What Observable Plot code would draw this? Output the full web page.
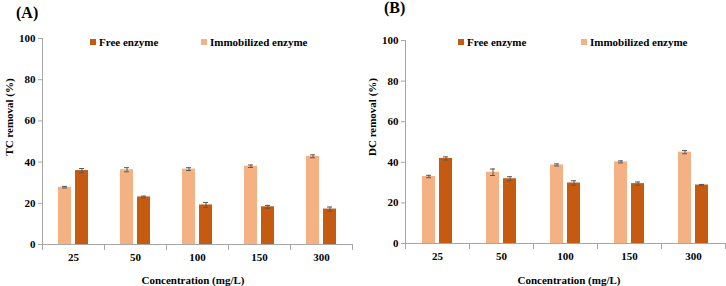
<!DOCTYPE html>
<html>
<head>
<meta charset="utf-8">
<script src="https://cdn.jsdelivr.net/npm/d3@7"></script>
<script src="https://cdn.jsdelivr.net/npm/@observablehq/plot@0.6"></script>
<style>
  body { margin: 0; background: #fff; font-family: "Liberation Serif", "Times New Roman", serif; font-weight: bold; color: #000; }
  #wrap { position: relative; width: 726px; height: 286px; overflow: hidden; }
  .panel { position: absolute; top: 0; width: 363px; height: 286px; }
  .panel svg { position: absolute; left: 0; top: 0; }
  .tag { position: absolute; font-size: 16px; line-height: 16px; }
  .legend { position: absolute; font-size: 11px; line-height: 14px; white-space: nowrap; display: flex; align-items: center; }
  .sw { display: inline-block; width: 6px; height: 6px; margin-right: 3px; }
  .lab { position: absolute; font-size: 11px; line-height: 12px; white-space: nowrap; }
</style>
</head>
<body>
<div id="wrap"></div>
<script>
// Concentrations tested and the two enzyme forms
const concentrations = ["25", "50", "100", "150", "300"];
const series = ["Immobilized enzyme", "Free enzyme"];
const yTicks = [0, 20, 40, 60, 80, 100];

// (A) TC removal (%), mean and error
const tcImmobilized = [27.8, 36.3, 36.6, 38.0, 42.8];
const tcImmobilizedErr = [0.4, 1.0, 0.7, 0.6, 0.7];
const tcFree = [35.9, 23.1, 19.2, 18.3, 17.2];
const tcFreeErr = [1.0, 0.4, 1.2, 0.7, 1.0];

// (B) DC removal (%), mean and error
const dcImmobilized = [33.0, 35.1, 38.7, 40.2, 45.0];
const dcImmobilizedErr = [0.6, 1.6, 0.5, 0.5, 0.8];
const dcFree = [41.9, 31.9, 29.8, 29.5, 28.8];
const dcFreeErr = [0.8, 1.0, 1.1, 0.8, 0.3];

const colors = ["#F4B183", "#C55A11"];
const axisGray = "#a6a6a6";
const errGray = "#595959";

function drawPanel({immob, immobErr, free, freeErr, margin}) {
  const width = 363, height = 286;
  const rows = concentrations.flatMap((c, i) => [
    {conc: c, series: series[0], value: immob[i], err: immobErr[i]},
    {conc: c, series: series[1], value: free[i], err: freeErr[i]}
  ]);
  const facetW = (width - margin.left - margin.right) / concentrations.length;
  const step = 18, gap = 4;            // bar width 14 + gap 4
  const innerH = height - margin.top - margin.bottom;
  const errCommon = {fx: "conc", x: "series", stroke: errGray, strokeWidth: 1};
  return Plot.plot({
    width, height,
    marginTop: margin.top, marginRight: margin.right, marginBottom: margin.bottom, marginLeft: margin.left,
    style: {fontFamily: "Liberation Serif, Times New Roman, serif", fontWeight: "bold", fontSize: "11px", color: "#000", background: "transparent", overflow: "visible"},
    fx: {domain: concentrations, padding: 0, axis: null},
    x: {domain: series, axis: null, paddingInner: gap / step, paddingOuter: (facetW / step - 2 + gap / step) / 2},
    y: {domain: [0, 100], axis: null},
    color: {domain: series, range: colors},
    marks: [
      Plot.barY(rows, {fx: "conc", x: "series", y: "value", fill: "series"}),
      Plot.ruleX(rows, {...errCommon, y1: d => d.value - d.err, y2: d => d.value + d.err}),
      Plot.tickY(rows, {...errCommon, y: d => d.value - d.err, insetLeft: 4, insetRight: 4}),
      Plot.tickY(rows, {...errCommon, y: d => d.value + d.err, insetLeft: 4, insetRight: 4}),
      Plot.ruleY([0], {stroke: axisGray}),
      Plot.frame({anchor: "left", stroke: axisGray, facetAnchor: "left"}),
      // category boundary ticks below the baseline
      Plot.frame({anchor: "left", stroke: axisGray, insetTop: innerH, insetBottom: -5}),
      Plot.frame({anchor: "right", stroke: axisGray, insetTop: innerH, insetBottom: -5, facetAnchor: "right"}),
      Plot.axisY({ticks: yTicks, tickSize: 4, tickPadding: 3, stroke: axisGray, fill: "#000", label: null}),
      Plot.axisFx({anchor: "bottom", tickSize: 0, tickPadding: 9, fill: "#000", label: null})
    ]
  });
}

function addPanel(left, cfg) {
  const p = document.createElement("div");
  p.className = "panel";
  p.style.left = left + "px";
  p.appendChild(drawPanel(cfg));

  const tag = document.createElement("div");
  tag.className = "tag";
  tag.textContent = cfg.tag;
  tag.style.left = cfg.tagPos[0] + "px";
  tag.style.top = cfg.tagPos[1] + "px";
  p.appendChild(tag);

  // legend entries: Free first, Immobilized second
  [[series[1], colors[1], cfg.legendX[0]], [series[0], colors[0], cfg.legendX[1]]].forEach(([name, col, x]) => {
    const l = document.createElement("div");
    l.className = "legend";
    l.style.left = x + "px";
    l.style.top = "35px";
    l.innerHTML = `<span class="sw" style="background:${col}"></span>${name}`;
    p.appendChild(l);
  });

  const yl = document.createElement("div");
  yl.className = "lab";
  yl.textContent = cfg.yLabel;
  yl.style.left = "9px";
  yl.style.top = "117px";
  yl.style.transform = "translate(-50%,-50%) rotate(-90deg)";
  p.appendChild(yl);

  const xl = document.createElement("div");
  xl.className = "lab";
  xl.textContent = "Concentration (mg/L)";
  xl.style.left = cfg.xLabelX + "px";
  xl.style.top = "280px";
  xl.style.transform = "translate(-50%,-50%)";
  p.appendChild(xl);

  document.getElementById("wrap").appendChild(p);
}

addPanel(0, {
  immob: tcImmobilized, immobErr: tcImmobilizedErr, free: tcFree, freeErr: tcFreeErr,
  margin: {top: 38, right: 11, bottom: 42, left: 41},
  tag: "(A)", tagPos: [16, 5], legendX: [90, 201], yLabel: "TC removal (%)", xLabelX: 193
});
addPanel(363, {
  immob: dcImmobilized, immobErr: dcImmobilizedErr, free: dcFree, freeErr: dcFreeErr,
  margin: {top: 40, right: 1, bottom: 43, left: 41},
  tag: "(B)", tagPos: [21, 0], legendX: [95, 218], yLabel: "DC removal (%)", xLabelX: 206
});
</script>
</body>
</html>
